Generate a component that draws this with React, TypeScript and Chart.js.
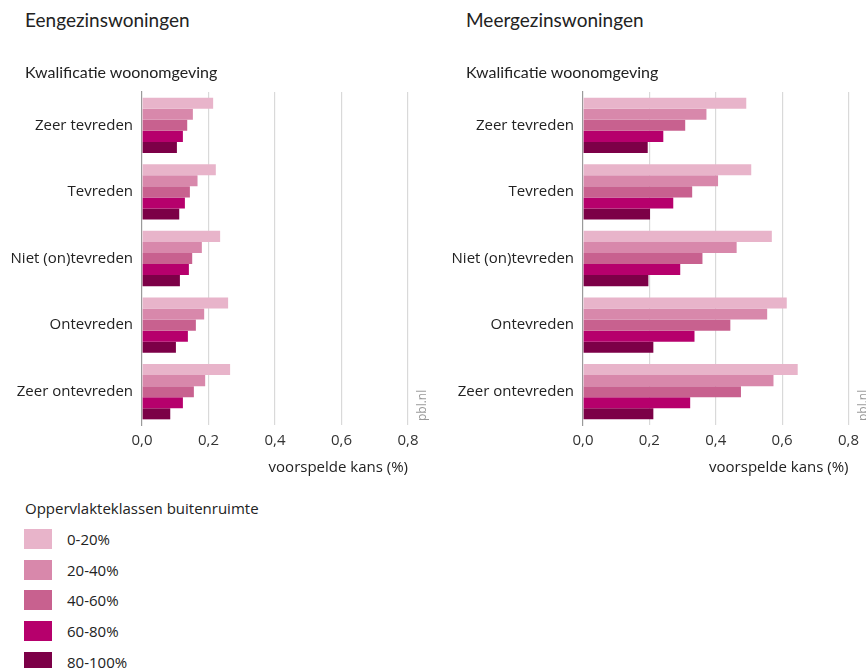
import React, { useEffect, useRef } from "react";
import { Chart, registerables } from "chart.js";

Chart.register(...registerables);

const categories = ["Zeer tevreden", "Tevreden", "Niet (on)tevreden", "Ontevreden", "Zeer ontevreden"];
const seriesLabels = ["0-20%", "20-40%", "40-60%", "60-80%", "80-100%"];
const seriesColors = ["#e8b4ca", "#d888ab", "#c8618f", "#b6006c", "#7c0047"];
const xTicks = [0, 0.2, 0.4, 0.6, 0.8];

// Eengezinswoningen
const een0_20 = [0.214, 0.222, 0.235, 0.259, 0.265];
const een20_40 = [0.153, 0.167, 0.18, 0.187, 0.19];
const een40_60 = [0.136, 0.144, 0.151, 0.162, 0.156];
const een60_80 = [0.123, 0.129, 0.141, 0.138, 0.123];
const een80_100 = [0.105, 0.112, 0.114, 0.102, 0.085];

// Meergezinswoningen
const meer0_20 = [0.492, 0.507, 0.569, 0.614, 0.647];
const meer20_40 = [0.372, 0.407, 0.463, 0.555, 0.574];
const meer40_60 = [0.308, 0.329, 0.36, 0.444, 0.476];
const meer60_80 = [0.242, 0.272, 0.293, 0.336, 0.323];
const meer80_100 = [0.195, 0.202, 0.197, 0.212, 0.212];

const eenSeries = [een0_20, een20_40, een40_60, een60_80, een80_100];
const meerSeries = [meer0_20, meer20_40, meer40_60, meer60_80, meer80_100];

const FONT = "'Open Sans', 'Noto Sans', sans-serif";
const HFONT = "Lato, 'Open Sans', sans-serif";

const pblPlugin = {
  id: "pblText",
  afterDraw(chart: any) {
    const { ctx, chartArea } = chart;
    ctx.save();
    ctx.translate(chartArea.right + 15, chartArea.bottom - 4);
    ctx.rotate(-Math.PI / 2);
    ctx.fillStyle = "#9a9a9a";
    ctx.font = `12px ${FONT}`;
    ctx.textAlign = "left";
    ctx.textBaseline = "middle";
    ctx.fillText("pbl.nl", 0, 0);
    ctx.restore();
  },
};

function makeConfig(series: number[][], rightPad: number): any {
  return {
    type: "bar",
    data: {
      labels: categories,
      datasets: series.map((d, i) => ({
        label: seriesLabels[i],
        data: d,
        backgroundColor: seriesColors[i],
        borderWidth: 0,
        categoryPercentage: 0.83,
        barPercentage: 1.0,
      })),
    },
    options: {
      indexAxis: "y",
      animation: false,
      responsive: false,
      layout: { padding: { top: 0, right: rightPad, bottom: 0, left: 0 } },
      plugins: { legend: { display: false }, tooltip: { enabled: false } },
      scales: {
        x: {
          min: 0,
          max: 0.8,
          afterBuildTicks: (scale: any) => {
            scale.ticks = xTicks.map((v) => ({ value: v }));
          },
          afterFit: (scale: any) => {
            scale.height = 60;
          },
          ticks: {
            padding: 7,
            color: "#333",
            font: { family: FONT, size: 15 },
            callback: (v: any) => Number(v).toFixed(1).replace(".", ","),
          },
          grid: {
            drawTicks: false,
            color: (c: any) => (c.tick && c.tick.value === 0 ? "rgba(0,0,0,0)" : "#d9d9d9"),
            lineWidth: 1.2,
          },
          border: { display: false },
          title: {
            display: true,
            text: "voorspelde kans (%)",
            align: "end",
            color: "#222",
            font: { family: FONT, size: 15 },
            padding: { top: 0, bottom: 8 },
          },
        },
        y: {
          afterFit: (scale: any) => {
            scale.width = 142;
          },
          ticks: {
            padding: 9,
            color: "#222",
            font: { family: FONT, size: 15 },
          },
          grid: { display: false, drawTicks: false },
          border: { display: true, color: "#9a9a9a", width: 1.2 },
        },
      },
    },
    plugins: [pblPlugin],
  };
}

function BarPanel({ series, left, width, rightPad }: { series: number[][]; left: number; width: number; rightPad: number }) {
  const ref = useRef<HTMLCanvasElement>(null);
  useEffect(() => {
    if (!ref.current) return;
    const chart = new Chart(ref.current, makeConfig(series, rightPad));
    return () => chart.destroy();
  }, []);
  return (
    <canvas
      ref={ref}
      width={width}
      height={411}
      style={{ position: "absolute", left, top: 74, width, height: 411 }}
    />
  );
}

export default function App() {
  useEffect(() => {
    document.body.style.margin = "0";
  }, []);
  const title: React.CSSProperties = {
    position: "absolute",
    fontFamily: HFONT,
    fontSize: 19,
    lineHeight: "24px",
    color: "#222",
    whiteSpace: "nowrap",
  };
  const sub: React.CSSProperties = {
    position: "absolute",
    fontFamily: HFONT,
    fontSize: 16,
    lineHeight: "20px",
    color: "#222",
    whiteSpace: "nowrap",
  };
  return (
    <div style={{ position: "relative", width: 866, height: 668, overflow: "hidden", background: "#fff" }}>
      <BarPanel series={eenSeries} left={0} width={433} rightPad={25} />
      <BarPanel series={meerSeries} left={441} width={425} rightPad={17} />
      <div style={{ ...title, left: 25, top: 8 }}>Eengezinswoningen</div>
      <div style={{ ...title, left: 466, top: 8 }}>Meergezinswoningen</div>
      <div style={{ ...sub, left: 25, top: 62 }}>Kwalificatie woonomgeving</div>
      <div style={{ ...sub, left: 466, top: 62 }}>Kwalificatie woonomgeving</div>
      <div
        style={{
          position: "absolute",
          left: 25,
          top: 498,
          fontFamily: FONT,
          fontSize: 15,
          lineHeight: "20px",
          color: "#222",
          whiteSpace: "nowrap",
        }}
      >
        Oppervlakteklassen buitenruimte
      </div>
      {seriesLabels.map((lab, i) => (
        <div key={lab} style={{ position: "absolute", left: 24, top: 529 + i * 30.7, height: 20, display: "flex", alignItems: "center" }}>
          <div style={{ width: 28, height: 20, background: seriesColors[i] }} />
          <div style={{ marginLeft: 15, fontFamily: FONT, fontSize: 15, color: "#222", lineHeight: "20px" }}>{lab}</div>
        </div>
      ))}
    </div>
  );
}
